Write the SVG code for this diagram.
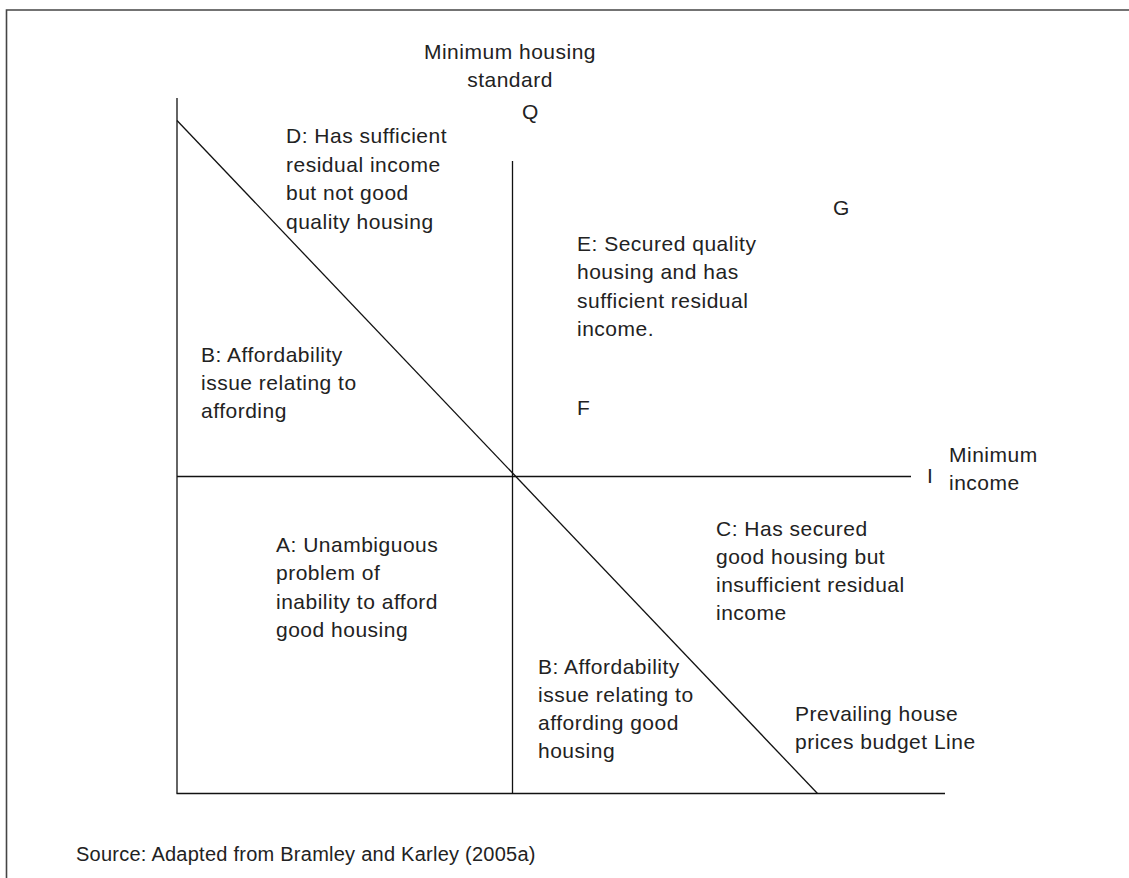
<svg xmlns="http://www.w3.org/2000/svg" width="1129" height="878" viewBox="0 0 1129 878">
<style>
  .lbl { font-family: "Liberation Sans", Arial, sans-serif; font-size: 21px; letter-spacing: 0.5px; fill: #222; }
  .src { font-family: "Liberation Sans", Arial, sans-serif; font-size: 20px; letter-spacing: 0.25px; fill: #222; }
  .ax { stroke: #111; stroke-width: 1.3; fill: none; }
  .frame { stroke: #454545; stroke-width: 1.6; fill: none; }
</style>
<rect width="1129" height="878" fill="#ffffff"/>
<g id="frame">
  <polyline class="frame" points="6.5,880 6.5,10 1131,10"/>
</g>
<g id="connectors">
  <line class="ax" x1="177" y1="98" x2="177" y2="793.5"/>
  <line class="ax" x1="176.5" y1="793.5" x2="945" y2="793.5"/>
  <line class="ax" x1="177" y1="476.5" x2="911" y2="476.5"/>
  <line class="ax" x1="512.5" y1="161" x2="512.5" y2="793.5"/>
  <line class="ax" x1="177" y1="120.5" x2="817.5" y2="793.5"/>
</g>
<g id="title-axis-y">
  <text class="lbl" text-anchor="middle"><tspan x="510" y="59">Minimum housing</tspan><tspan x="510" y="87">standard</tspan></text>
</g>
<g id="label-Q"><text class="lbl" x="522" y="119">Q</text></g>
<g id="label-G"><text class="lbl" x="833" y="215">G</text></g>
<g id="label-F"><text class="lbl" x="577" y="415">F</text></g>
<g id="label-I"><text class="lbl" x="927" y="483">I</text></g>
<g id="title-axis-x">
  <text class="lbl"><tspan x="949" y="461.5">Minimum</tspan><tspan x="949" y="489.5">income</tspan></text>
</g>
<g id="region-D">
  <text class="lbl"><tspan x="286" y="143">D: Has sufficient</tspan><tspan x="286" y="171.5">residual income</tspan><tspan x="286" y="200">but not good</tspan><tspan x="286" y="228.5">quality housing</tspan></text>
</g>
<g id="region-E">
  <text class="lbl"><tspan x="577" y="250.5">E: Secured quality</tspan><tspan x="577" y="279">housing and has</tspan><tspan x="577" y="307.5">sufficient residual</tspan><tspan x="577" y="336">income.</tspan></text>
</g>
<g id="region-B-upper">
  <text class="lbl"><tspan x="201" y="361.5">B: Affordability</tspan><tspan x="201" y="389.5">issue relating to</tspan><tspan x="201" y="417.5">affording</tspan></text>
</g>
<g id="region-A">
  <text class="lbl"><tspan x="276" y="551.5">A: Unambiguous</tspan><tspan x="276" y="580">problem of</tspan><tspan x="276" y="608.5">inability to afford</tspan><tspan x="276" y="636.5">good housing</tspan></text>
</g>
<g id="region-C">
  <text class="lbl"><tspan x="716" y="536">C: Has secured</tspan><tspan x="716" y="564">good housing but</tspan><tspan x="716" y="592">insufficient residual</tspan><tspan x="716" y="620">income</tspan></text>
</g>
<g id="region-B-lower">
  <text class="lbl"><tspan x="538" y="674">B: Affordability</tspan><tspan x="538" y="702">issue relating to</tspan><tspan x="538" y="730">affording good</tspan><tspan x="538" y="758">housing</tspan></text>
</g>
<g id="budget-line-label">
  <text class="lbl"><tspan x="795" y="721">Prevailing house</tspan><tspan x="795" y="749">prices budget Line</tspan></text>
</g>
<g id="source">
  <text class="src" x="76" y="861">Source: Adapted from Bramley and Karley (2005a)</text>
</g>
</svg>
